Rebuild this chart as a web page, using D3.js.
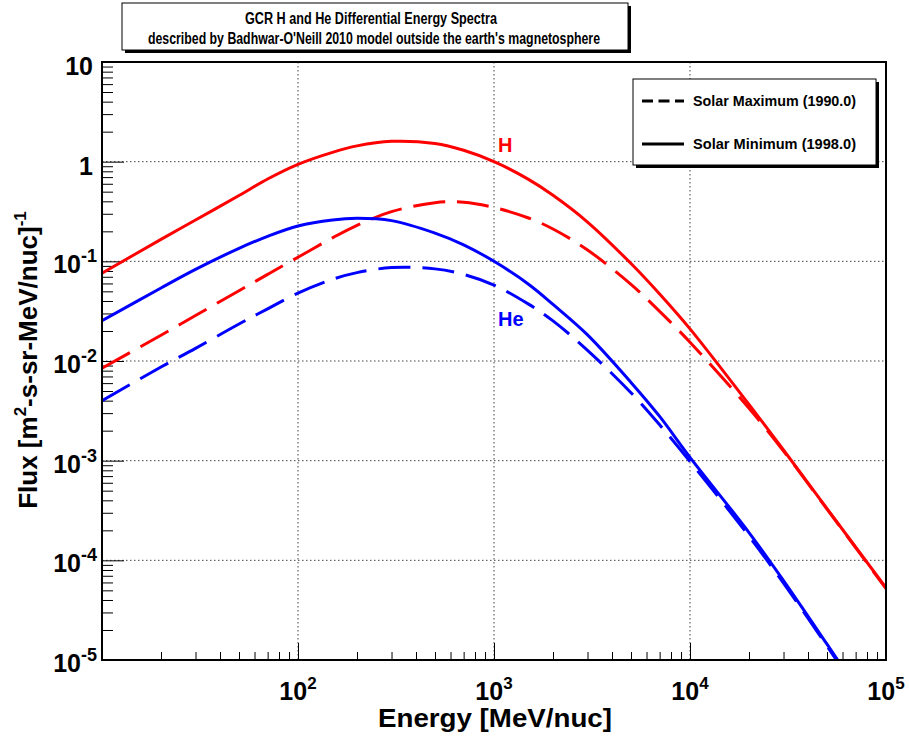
<!DOCTYPE html>
<html>
<head>
<meta charset="utf-8">
<script src="https://cdn.jsdelivr.net/npm/d3@7"></script>
<style>
body { margin: 0; background: #fff; }
text { font-family: "Liberation Sans", Arial, sans-serif; font-weight: bold; }
</style>
</head>
<body>
<div id="chart"></div>
<script>
// energies in MeV/nuc, flux in (m2-s-sr-MeV/nuc)^-1
var energy = [10, 20, 30, 50, 70, 100, 150, 200, 300, 500, 700, 1000, 1500, 2000, 3000, 5000, 7000, 10000, 20000, 30000, 50000, 100000];
var hSolarMin = [0.076, 0.166, 0.26, 0.457, 0.67, 0.94, 1.24, 1.44, 1.60, 1.52, 1.30, 1.0, 0.664, 0.46, 0.248, 0.095, 0.047, 0.021, 0.00366, 0.00128, 0.00033, 0.000053];
var hSolarMax = [0.00847, 0.01815, 0.0286, 0.0507, 0.0739, 0.110, 0.172, 0.23, 0.315, 0.388, 0.392, 0.347, 0.272, 0.211, 0.13, 0.0587, 0.0315, 0.01545, 0.00336, 0.00125, 0.000327, 0.000052];
var heSolarMin = [0.0254, 0.054, 0.083, 0.135, 0.178, 0.226, 0.26, 0.27, 0.256, 0.192, 0.1466, 0.100, 0.059, 0.037, 0.0183, 0.0061, 0.00278, 0.00108, 0.00019, 0.0000625, 0.0000144, 0.0000019];
var heSolarMax = [0.0040, 0.0087, 0.0134, 0.0235, 0.0334, 0.048, 0.066, 0.077, 0.0865, 0.084, 0.074, 0.0578, 0.0372, 0.0253, 0.0128, 0.0048, 0.00229, 0.00098, 0.000175, 0.000059, 0.0000138, 0.0000018];

var xTickExp = [2, 3, 4, 5];
var yTickExp = [1, 0, -1, -2, -3, -4, -5];

var width = 909, height = 736;
var svg = d3.select("#chart").append("svg")
    .attr("width", width).attr("height", height);

var x = d3.scaleLog().domain([10, 1e5]).range([102, 886]);
var y = d3.scaleLog().domain([1e-5, 10]).range([660, 62]);

// grid
var gridX = [100, 1000, 10000];
var gridY = [1, 0.1, 0.01, 0.001, 0.0001];
svg.selectAll(".gx").data(gridX).enter().append("line")
    .attr("x1", d => x(d)).attr("x2", d => x(d))
    .attr("y1", 62).attr("y2", 660)
    .attr("stroke", "#444").attr("stroke-width", 1).attr("stroke-dasharray", "1.5,2.5");
svg.selectAll(".gy").data(gridY).enter().append("line")
    .attr("y1", d => y(d)).attr("y2", d => y(d))
    .attr("x1", 102).attr("x2", 886)
    .attr("stroke", "#444").attr("stroke-width", 1).attr("stroke-dasharray", "1.5,2.5");

// minor and major ticks
var minorX = [], minorY = [];
for (var e = 1; e < 5; e++) for (var m = 2; m < 10; m++) minorX.push(m * Math.pow(10, e));
for (var e2 = -5; e2 < 1; e2++) for (var m2 = 2; m2 < 10; m2++) minorY.push(m2 * Math.pow(10, e2));

function tickAxis(axis) {
  return function (g) {
    g.call(axis);
    g.select(".domain").remove();
    g.selectAll(".tick line").attr("stroke", "#000").attr("stroke-width", 1);
  };
}
svg.append("g").attr("transform", "translate(0,660)")
    .call(tickAxis(d3.axisBottom(x).tickValues(minorX).tickSize(-8).tickFormat("")));
svg.append("g").attr("transform", "translate(0,660)")
    .call(tickAxis(d3.axisBottom(x).tickValues([100, 1000, 10000]).tickSize(-17).tickFormat("")));
svg.append("g").attr("transform", "translate(102,0)")
    .call(tickAxis(d3.axisLeft(y).tickValues(minorY).tickSize(-11).tickFormat("")));
svg.append("g").attr("transform", "translate(102,0)")
    .call(tickAxis(d3.axisLeft(y).tickValues([1e-4, 1e-3, 1e-2, 1e-1, 1]).tickSize(-22).tickFormat("")));

// curves
svg.append("clipPath").attr("id", "clip").append("rect")
    .attr("x", 102).attr("y", 62).attr("width", 784).attr("height", 598);

var line = d3.line()
    .x(d => x(d[0])).y(d => y(d[1]))
    .curve(d3.curveCatmullRom.alpha(0.5));

var series = [
  { v: hSolarMax, color: "#ff0000", dash: "32,12" },
  { v: heSolarMax, color: "#0000ff", dash: "32,12" },
  { v: hSolarMin, color: "#ff0000", dash: null },
  { v: heSolarMin, color: "#0000ff", dash: null }
];
var curves = svg.append("g").attr("clip-path", "url(#clip)");
series.forEach(function (s) {
  curves.append("path")
      .datum(energy.map((E, i) => [E, s.v[i]]))
      .attr("d", line)
      .attr("fill", "none")
      .attr("stroke", s.color)
      .attr("stroke-width", 3)
      .attr("stroke-dasharray", s.dash);
});

// frame
svg.append("rect").attr("x", 102).attr("y", 62).attr("width", 784).attr("height", 598)
    .attr("fill", "none").attr("stroke", "#000").attr("stroke-width", 2);

// curve labels
svg.append("text").attr("x", 498).attr("y", 152).attr("font-size", 20)
    .attr("fill", "#ff0000").text("H");
svg.append("text").attr("x", 498).attr("y", 326).attr("font-size", 20)
    .attr("fill", "#0000ff").text("He");

// x tick labels
xTickExp.forEach(function (p) {
  var t = svg.append("text").attr("x", x(Math.pow(10, p))).attr("y", 700)
      .attr("text-anchor", "middle").attr("font-size", 25);
  t.append("tspan").text("10");
  t.append("tspan").attr("font-size", 17).attr("dy", -11).text(p);
});

// y tick labels
yTickExp.forEach(function (p) {
  var yy = y(Math.pow(10, p));
  if (p === 1 || p === 0) {
    svg.append("text").attr("x", 93).attr("y", yy + 13)
        .attr("text-anchor", "end").attr("font-size", 25)
        .text(p === 1 ? "10" : "1");
  } else {
    var t = svg.append("text").attr("x", 97).attr("y", yy + 12)
        .attr("text-anchor", "end").attr("font-size", 25);
    t.append("tspan").text("10");
    t.append("tspan").attr("font-size", 18).attr("dy", -11).text("-" + Math.abs(p));
  }
});

// axis titles
svg.append("text").attr("x", 495).attr("y", 727).attr("text-anchor", "middle")
    .attr("font-size", 26).attr("textLength", 234).attr("lengthAdjust", "spacingAndGlyphs")
    .text("Energy [MeV/nuc]");

var yt = svg.append("text").attr("transform", "translate(37,360) rotate(-90)")
    .attr("text-anchor", "middle").attr("font-size", 26);
yt.append("tspan").text("Flux [m");
yt.append("tspan").attr("font-size", 17).attr("dy", -11).text("2");
yt.append("tspan").attr("dy", 11).text("-s-sr-MeV/nuc]");
yt.append("tspan").attr("font-size", 17).attr("dy", -11).text("-1");

// title box
svg.append("rect").attr("x", 125).attr("y", 6).attr("width", 506).attr("height", 47).attr("fill", "#000");
svg.append("rect").attr("x", 122).attr("y", 3).attr("width", 506).attr("height", 47)
    .attr("fill", "#fff").attr("stroke", "#000").attr("stroke-width", 1);
svg.append("text").attr("x", 371).attr("y", 24).attr("text-anchor", "middle")
    .attr("font-size", 16).attr("textLength", 252).attr("lengthAdjust", "spacingAndGlyphs")
    .text("GCR H and He Differential Energy Spectra");
svg.append("text").attr("x", 374).attr("y", 44).attr("text-anchor", "middle")
    .attr("font-size", 16).attr("textLength", 452).attr("lengthAdjust", "spacingAndGlyphs")
    .text("described by Badhwar-O'Neill 2010 model outside the earth's magnetosphere");

// legend
var legendItems = [
  { label: "Solar Maximum (1990.0)", dash: "11,5.5", y: 101 },
  { label: "Solar Minimum (1998.0)", dash: null, y: 144 }
];
svg.append("rect").attr("x", 636).attr("y", 82).attr("width", 243).attr("height", 86).attr("fill", "#000");
svg.append("rect").attr("x", 633).attr("y", 79).attr("width", 243).attr("height", 86)
    .attr("fill", "#fff").attr("stroke", "#000").attr("stroke-width", 1);
legendItems.forEach(function (d) {
  svg.append("line").attr("x1", 642).attr("x2", 684).attr("y1", d.y).attr("y2", d.y)
      .attr("stroke", "#000").attr("stroke-width", 3).attr("stroke-dasharray", d.dash);
  svg.append("text").attr("x", 693).attr("y", d.y + 5).attr("font-size", 15)
      .attr("textLength", 163).attr("lengthAdjust", "spacingAndGlyphs").text(d.label);
});
</script>
</body>
</html>
